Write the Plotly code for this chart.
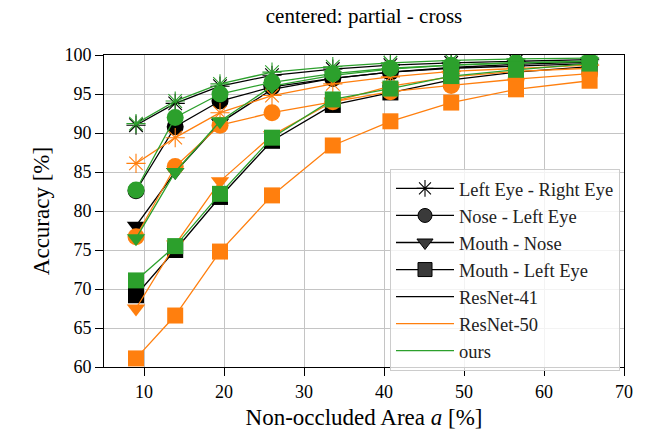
import plotly.graph_objects as go

area = [9.0, 13.9, 19.5, 26.0, 33.6, 40.8, 48.4, 56.5, 65.7]

pairs = ["Left Eye - Right Eye", "Nose - Left Eye", "Mouth - Nose", "Mouth - Left Eye"]
models = ["ResNet-41", "ResNet-50", "ours"]

resnet41_lere = [91.0, 93.8, 96.0, 97.4, 98.2, 98.7, 99.0, 99.2, 99.4]
resnet50_lere = [86.1, 89.4, 92.6, 94.8, 96.3, 97.2, 97.9, 98.3, 98.7]
ours_lere = [91.2, 94.1, 96.3, 97.8, 98.5, 99.0, 99.3, 99.5, 99.6]

resnet41_nle = [82.6, 90.8, 94.1, 95.9, 97.0, 97.8, 98.3, 98.6, 98.9]
resnet50_nle = [76.7, 85.7, 91.0, 92.6, 94.0, 95.3, 96.1, 96.9, 97.6]
ours_nle = [82.7, 92.0, 95.0, 96.5, 97.6, 98.3, 98.7, 99.0, 99.2]

resnet41_mn = [78.1, 85.0, 91.3, 95.6, 97.0, 97.8, 98.4, 98.8, 99.1]
resnet50_mn = [67.5, 75.7, 83.8, 89.7, 94.0, 96.0, 97.2, 97.9, 98.3]
ours_mn = [76.5, 85.0, 91.5, 96.0, 97.4, 98.2, 98.7, 99.0, 99.2]

resnet41_mle = [69.2, 75.0, 81.8, 89.0, 93.6, 95.2, 96.8, 97.8, 98.5]
resnet50_mle = [61.1, 66.6, 74.8, 82.0, 88.4, 91.5, 93.9, 95.6, 96.7]
ours_mle = [71.1, 75.5, 82.2, 89.4, 94.3, 95.7, 97.3, 98.1, 98.9]

data = {
    "ResNet-41": [resnet41_lere, resnet41_nle, resnet41_mn, resnet41_mle],
    "ResNet-50": [resnet50_lere, resnet50_nle, resnet50_mn, resnet50_mle],
    "ours": [ours_lere, ours_nle, ours_mn, ours_mle],
}
colors = {"ResNet-41": "#000000", "ResNet-50": "#ff7f0e", "ours": "#2ca02c"}
symbols = ["asterisk-open", "circle", "triangle-down", "square"]
sizes = [16, 17, 16, 16]

fig = go.Figure()
for m in models:
    for i, p in enumerate(pairs):
        sym = symbols[i]
        mk = dict(symbol=sym, size=sizes[i], color=colors[m])
        if sym == "asterisk-open":
            mk["line"] = dict(color=colors[m], width=1.1)
        else:
            mk["line"] = dict(width=0)
        fig.add_trace(go.Scatter(
            x=area, y=data[m][i], mode="lines+markers",
            line=dict(color=colors[m], width=1.3),
            marker=mk, showlegend=False, hoverinfo="skip",
        ))

# legend entries
for i, p in enumerate(pairs):
    sym = symbols[i]
    mk = dict(symbol=sym, size=14, color="#3a3a3a", line=dict(color="#000000", width=1))
    if sym == "asterisk-open":
        mk = dict(symbol=sym, size=14, color="#000000", line=dict(color="#000000", width=1.1))
    fig.add_trace(go.Scatter(
        x=[None], y=[None], mode="lines+markers", name=p,
        line=dict(color="#000000", width=1.3), marker=mk,
    ))
for m in models:
    fig.add_trace(go.Scatter(
        x=[None], y=[None], mode="lines", name=m,
        line=dict(color=colors[m], width=1.3),
    ))

font_family = "Liberation Serif, Times New Roman, serif"
fig.update_layout(
    width=645, height=438,
    margin=dict(l=104, r=13, t=55, b=69),
    paper_bgcolor="white", plot_bgcolor="white",
    font=dict(family=font_family, size=18, color="#000000"),
    title=dict(text="centered: partial - cross", x=0.5, xanchor="center",
               xref="paper",
               y=0.965, yanchor="middle", font=dict(size=21, family=font_family)),
    legend=dict(
        x=0.55, y=0.635, xanchor="left", yanchor="top",
        bgcolor="rgba(255,255,255,0.8)", bordercolor="#cccccc", borderwidth=1,
        font=dict(size=18.5, family=font_family, color="#222222"),
        itemwidth=58, tracegroupgap=0,
    ),
)
axis_common = dict(
    showline=True, linecolor="#000000", linewidth=1, mirror=True,
    ticks="outside", ticklen=8, tickcolor="#000000",
    showgrid=True, gridcolor="#c4c4c4", gridwidth=1, zeroline=False,
    tickfont=dict(size=18, family=font_family),
)
fig.update_xaxes(range=[5, 70], tickvals=[10, 20, 30, 40, 50, 60, 70],
                 title=dict(text="Non-occluded Area <i>a</i> [%]", font=dict(size=23, family=font_family), standoff=8),
                 **axis_common)
fig.update_yaxes(range=[60, 100], tickvals=[60, 65, 70, 75, 80, 85, 90, 95, 100],
                 title=dict(text="Accuracy [%]", font=dict(size=23, family=font_family), standoff=8),
                 **axis_common)

fig.write_html("out.html", config={"displayModeBar": False},
               post_script="document.body.style.margin='0';")
